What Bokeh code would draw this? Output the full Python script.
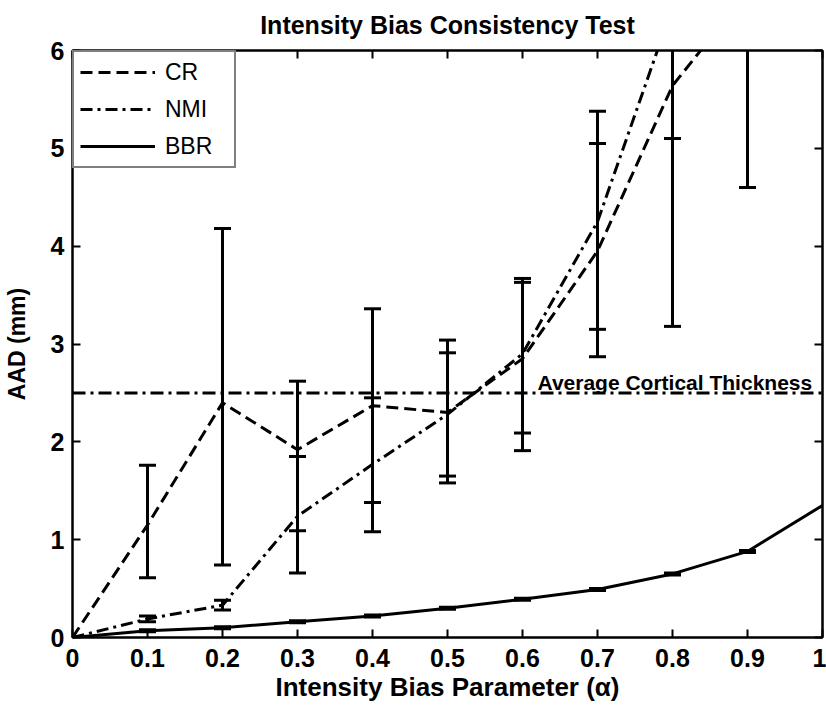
from bokeh.plotting import figure
from bokeh.models import (FixedTicker, Legend, LegendItem, Span, Label, Range1d,
                          LinearAxis, CustomLabelingPolicy)
from bokeh.embed import file_html
from bokeh.resources import INLINE

# ---- data ----
alpha_cr = [0.0, 0.1, 0.2, 0.3, 0.4, 0.5, 0.6, 0.7, 0.8, 0.9]
cr_mean = [0.0, 1.15, 2.40, 1.92, 2.37, 2.30, 2.85, 3.95, 5.64, 6.60]

alpha_nmi = [0.0, 0.1, 0.2, 0.3, 0.4, 0.5, 0.6, 0.7, 0.8]
nmi_mean = [0.0, 0.19, 0.33, 1.24, 1.77, 2.28, 2.90, 4.25, 6.44]

alpha_bbr = [0.0, 0.1, 0.2, 0.3, 0.4, 0.5, 0.6, 0.7, 0.8, 0.9, 1.0]
bbr_mean = [0.0, 0.07, 0.10, 0.16, 0.22, 0.30, 0.39, 0.49, 0.65, 0.88, 1.35]

eb_alpha_cr = [0.1, 0.2, 0.3, 0.4, 0.5, 0.6, 0.7, 0.8, 0.9]
cr_lower = [0.61, 0.74, 1.09, 1.38, 1.58, 1.91, 2.87, 3.18, 4.60]
cr_upper = [1.76, 4.18, 2.62, 3.36, 3.04, 3.67, 5.05, 8.10, 8.60]

eb_alpha_nmi = [0.1, 0.2, 0.3, 0.4, 0.5, 0.6, 0.7, 0.8]
nmi_lower = [0.16, 0.28, 0.66, 1.08, 1.65, 2.09, 3.15, 5.10]
nmi_upper = [0.22, 0.38, 1.85, 2.45, 2.91, 3.63, 5.38, 7.80]

eb_alpha_bbr = [0.1, 0.2, 0.3, 0.4, 0.5, 0.6, 0.7, 0.8, 0.9]
bbr_lower = [0.06, 0.09, 0.15, 0.21, 0.29, 0.38, 0.48, 0.64, 0.87]
bbr_upper = [0.08, 0.11, 0.17, 0.23, 0.31, 0.40, 0.50, 0.66, 0.89]

avg_cortical_thickness = 2.5

x_ticks = [0.0, 0.1, 0.2, 0.3, 0.4, 0.5, 0.6, 0.7, 0.8, 0.9, 1.0]
x_tick_labels = ["0", "0.1", "0.2", "0.3", "0.4", "0.5", "0.6", "0.7", "0.8", "0.9", "1"]
y_ticks = [0, 1, 2, 3, 4, 5, 6]

FONT = "Liberation Sans"

p = figure(width=826, height=707, output_backend="svg", toolbar_location=None,
           x_range=Range1d(x_ticks[0], x_ticks[-1]), y_range=Range1d(y_ticks[0], y_ticks[-1]),
           min_border_left=72, min_border_right=4, min_border_top=50, min_border_bottom=70)
p.background_fill_color = "white"
p.border_fill_color = "white"
p.outline_line_color = "black"
p.outline_line_width = 2
p.xgrid.visible = False
p.ygrid.visible = False

p.title.text = "Intensity Bias Consistency Test"
p.title.align = "center"
p.title.text_font = FONT
p.title.text_font_size = "25px"
p.title.text_font_style = "bold"
p.title.text_color = "black"
p.title.standoff = 16


def base_axis_style(ax):
    ax.axis_line_width = 2
    ax.axis_line_color = "black"
    ax.major_tick_in = 8
    ax.major_tick_out = 0
    ax.major_tick_line_width = 2
    ax.major_tick_line_color = "black"
    ax.minor_tick_line_color = None


for ax in (p.xaxis[0], p.yaxis[0]):
    base_axis_style(ax)
    ax.major_label_text_font = FONT
    ax.major_label_text_font_size = "25px"
    ax.major_label_text_font_style = "bold"
    ax.major_label_text_color = "black"
    ax.axis_label_text_font = FONT
    ax.axis_label_text_font_style = "bold"
    ax.axis_label_text_color = "black"

p.xaxis.ticker = FixedTicker(ticks=x_ticks)
p.xaxis.major_label_overrides = {t: l for t, l in zip(x_ticks, x_tick_labels)}
p.yaxis.ticker = FixedTicker(ticks=y_ticks)
p.xaxis.axis_label = "Intensity Bias Parameter (\u03b1)"
p.yaxis.axis_label = "AAD (mm)"
p.xaxis.axis_label_text_font_size = "26px"
p.yaxis.axis_label_text_font_size = "23px"
p.xaxis.major_label_standoff = 11
p.yaxis.major_label_standoff = 8
p.xaxis.axis_label_standoff = 2
p.yaxis.axis_label_standoff = 18

# tick marks (no labels) on the top and right edges of the box
no_labels = CustomLabelingPolicy(code="""
    for (const i of Array.from(indices)) indices.unset(i)
    return indices
""")
for ticks, side in ((y_ticks, "right"), (x_ticks, "above")):
    ax = LinearAxis(ticker=FixedTicker(ticks=ticks), major_label_policy=no_labels)
    base_axis_style(ax)
    ax.major_label_standoff = 0
    ax.major_label_text_font_size = "1px"
    p.add_layout(ax, side)

# average cortical thickness line
span = Span(location=avg_cortical_thickness, dimension="width", line_color="black",
            line_width=3, line_dash="13 5 3 5")
p.add_layout(span)
p.add_layout(Label(x=0.62, y=avg_cortical_thickness, y_offset=10, text_baseline="alphabetic",
                   text="Average Cortical Thickness", text_font=FONT,
                   text_font_size="21px", text_font_style="bold", text_color="black"))

LW = 3
# error bars
for xs, lo, hi in [(eb_alpha_cr, cr_lower, cr_upper),
                   (eb_alpha_nmi, nmi_lower, nmi_upper),
                   (eb_alpha_bbr, bbr_lower, bbr_upper)]:
    p.segment(x0=xs, y0=lo, x1=xs, y1=hi, line_color="black", line_width=LW)
    p.scatter(x=xs, y=lo, marker="dash", size=17, line_color="black", line_width=LW)
    p.scatter(x=xs, y=hi, marker="dash", size=17, line_color="black", line_width=LW)

r_cr = p.line(alpha_cr, cr_mean, line_color="black", line_width=LW, line_dash="12 6")
r_nmi = p.line(alpha_nmi, nmi_mean, line_color="black", line_width=LW, line_dash="12 5 3 5")
r_bbr = p.line(alpha_bbr, bbr_mean, line_color="black", line_width=LW)

legend = Legend(items=[LegendItem(label="CR", renderers=[r_cr]),
                       LegendItem(label="NMI", renderers=[r_nmi]),
                       LegendItem(label="BBR", renderers=[r_bbr])],
                location="top_left", margin=0, padding=6, spacing=9,
                glyph_width=75, glyph_height=28, label_standoff=10, label_width=63,
                label_text_font=FONT, label_text_font_size="23px",
                label_text_color="black",
                border_line_color="black", border_line_width=2,
                background_fill_alpha=1.0)
p.add_layout(legend)

open("out.html", "w").write(file_html(p, INLINE))
